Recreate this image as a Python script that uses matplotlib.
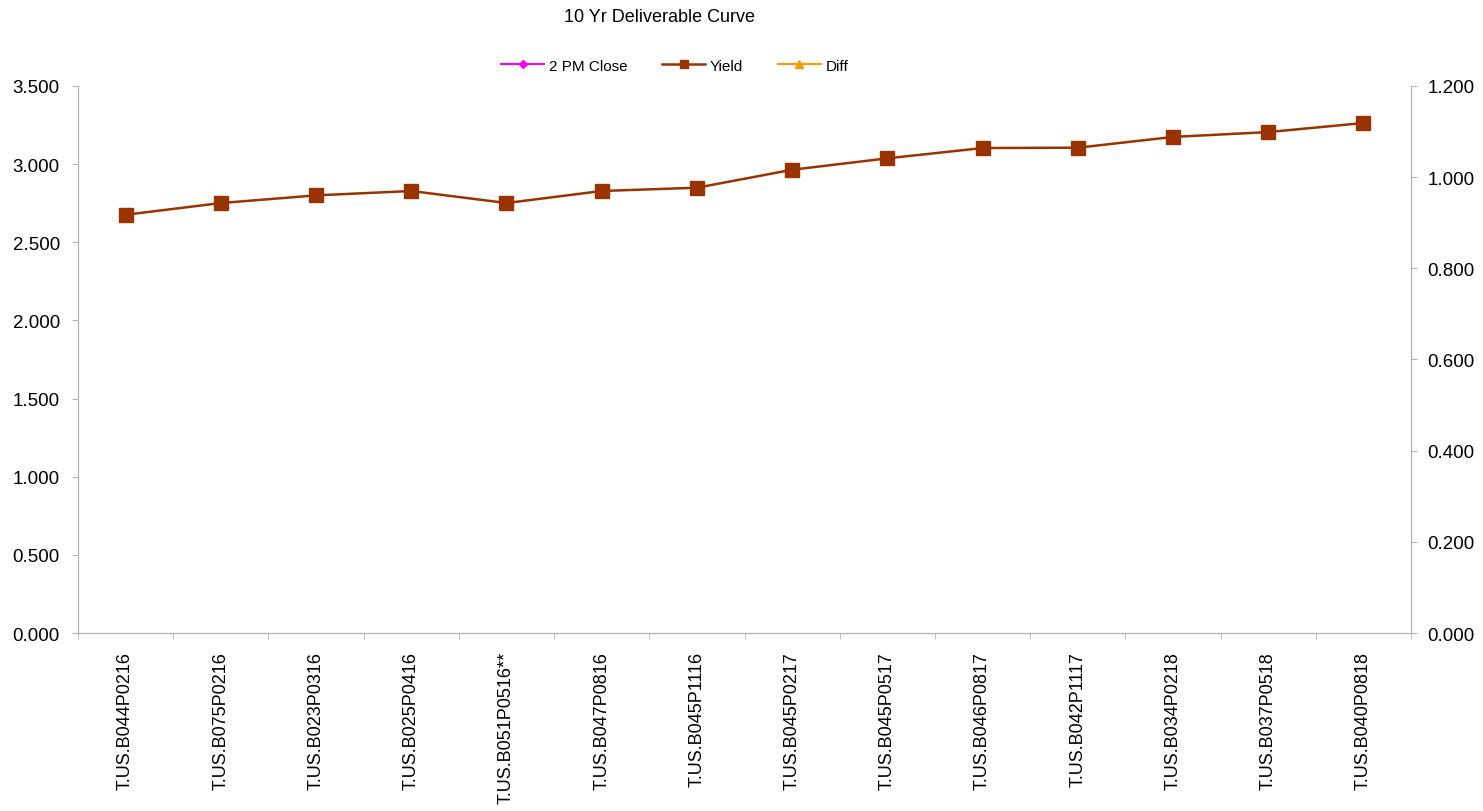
import numpy as np
import matplotlib
matplotlib.use("Agg")
import matplotlib.pyplot as plt
from matplotlib.lines import Line2D
from matplotlib.ticker import FixedLocator, FormatStrFormatter

plt.rcParams['font.family'] = ['Liberation Sans', 'DejaVu Sans']

# Data
bonds = ['T.US.B044P0216', 'T.US.B075P0216', 'T.US.B023P0316', 'T.US.B025P0416',
         'T.US.B051P0516**', 'T.US.B047P0816', 'T.US.B045P1116', 'T.US.B045P0217',
         'T.US.B045P0517', 'T.US.B046P0817', 'T.US.B042P1117', 'T.US.B034P0218',
         'T.US.B037P0518', 'T.US.B040P0818']
yield_vals = [2.676, 2.751, 2.800, 2.828, 2.751, 2.828, 2.849, 2.964,
              3.037, 3.103, 3.105, 3.174, 3.205, 3.263]
close_2pm = [np.nan] * len(bonds)   # no visible values
diff_vals = [np.nan] * len(bonds)   # no visible values

grey = '#b3b3b3'

fig = plt.figure(figsize=(14.83, 8.12), dpi=100)
ax = fig.add_axes([0.0526, 0.2192, 0.8989, 0.6737])
ax2 = ax.twinx()

x = np.arange(len(bonds))
ax.plot(x, close_2pm, color='#ff00ff', marker='D', markersize=5, linewidth=1.5)
ax.plot(x, yield_vals, color='#993300', marker='s', markersize=9.5, linewidth=1.8)
ax2.plot(x, diff_vals, color='#ff9900', marker='^', markersize=6, linewidth=1.5)

ax.set_xlim(-0.5, len(bonds) - 0.5)
ax.set_ylim(0, 3.5)
ax2.set_ylim(0, 1.2)
ax.set_yticks(np.arange(0, 3.51, 0.5))
ax2.set_yticks(np.arange(0, 1.21, 0.2))
ax.yaxis.set_major_formatter(FormatStrFormatter('%.3f'))
ax2.yaxis.set_major_formatter(FormatStrFormatter('%.3f'))

# category labels between boundary ticks
ax.set_xticks(x)
ax.set_xticklabels(bonds, rotation=90, fontsize=13)
ax.tick_params(axis='x', which='major', length=0, pad=13)
ax.xaxis.set_minor_locator(FixedLocator(np.arange(-0.5, len(bonds), 1.0)))
ax.tick_params(axis='x', which='minor', length=4, color=grey)

ax.tick_params(axis='y', labelsize=13.5, length=4, color=grey, pad=9)
ax2.tick_params(axis='y', labelsize=13.5, length=4, color=grey, pad=8)

for a in (ax, ax2):
    a.spines['top'].set_visible(False)
    for s in ('left', 'right', 'bottom'):
        a.spines[s].set_color(grey)

fig.text(0.445, 0.978, '10 Yr Deliverable Curve', ha='center', va='center', fontsize=13)

# legend entries with small markers, like the spreadsheet legend
handles = [
    Line2D([], [], color='#ff00ff', marker='D', markersize=4.5, linewidth=1.5, label='2 PM Close'),
    Line2D([], [], color='#993300', marker='s', markersize=6, linewidth=1.8, label='Yield'),
    Line2D([], [], color='#ff9900', marker='^', markersize=6, linewidth=1.5, label='Diff'),
]
fig.legend(handles=handles, loc='center', bbox_to_anchor=(0.455, 0.918), ncol=3,
           frameon=False, fontsize=11, handlelength=2.8, columnspacing=2.3, handletextpad=0.3)

fig.savefig('out.png', dpi=100)
